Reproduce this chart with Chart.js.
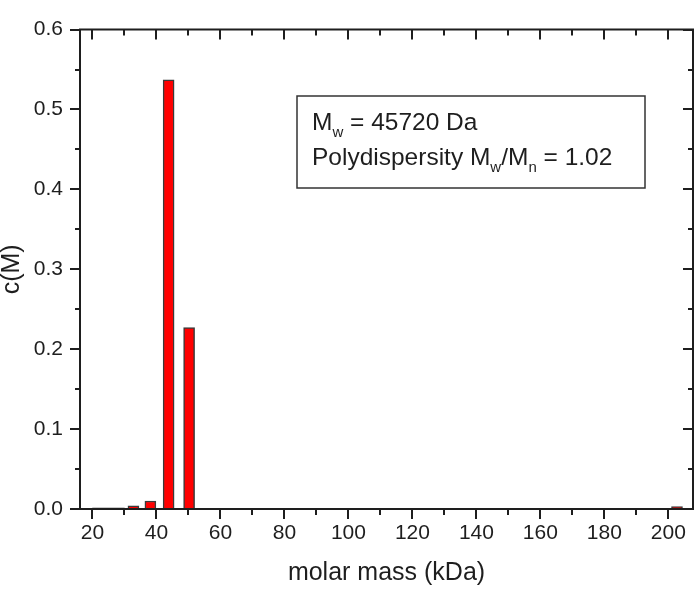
<!DOCTYPE html>
<html><head><meta charset="utf-8">
<script src="https://cdn.jsdelivr.net/npm/chart.js@4"></script>
<style>html,body{margin:0;padding:0;background:#fff}#wrap{width:700px;height:592px}</style>
</head><body><div id="wrap"><canvas id="c" width="700" height="592"></canvas></div>
<script>
// ---- data ----
const wideBarMass = [25];
const wideBarValue = [0.0015];
const masses = [32.8, 38.1, 43.8, 50.2, 202.7];
const values = [0.004, 0.010, 0.537, 0.227, 0.003];
const xTicks = [20, 40, 60, 80, 100, 120, 140, 160, 180, 200];
const xMinorTicks = [30, 50, 70, 90, 110, 130, 150, 170, 190];
const yTicks = [0, 0.1, 0.2, 0.3, 0.4, 0.5, 0.6];
const yTickLabels = ['0.0', '0.1', '0.2', '0.3', '0.4', '0.5', '0.6'];
const yMinorTicks = [0.05, 0.15, 0.25, 0.35, 0.45, 0.55];
const xTitle = 'molar mass (kDa)';
const yTitle = 'c(M)';

const FONT = "'Liberation Sans', Arial, sans-serif";
const INK = '#1e1e1e';

const framePlugin = {
  id: 'frame',
  afterDatasetsDraw(chart) {
    const ctx = chart.ctx, a = chart.chartArea, xs = chart.scales.x, ys = chart.scales.y;
    ctx.save();
    ctx.strokeStyle = INK;
    ctx.lineWidth = 2;
    ctx.lineCap = 'butt';
    ctx.beginPath();
    ctx.rect(a.left, a.top, a.right - a.left, a.bottom - a.top);
    ctx.stroke();
    ctx.beginPath();
    const tick = (vals, len) => {
      vals.forEach(v => {
        const px = Math.round(xs.getPixelForValue(v));
        ctx.moveTo(px, a.bottom); ctx.lineTo(px, a.bottom + len);
        ctx.moveTo(px, a.top); ctx.lineTo(px, a.top + len);
      });
    };
    const ytick = (vals, len) => {
      vals.forEach(v => {
        const py = Math.round(ys.getPixelForValue(v));
        ctx.moveTo(a.left, py); ctx.lineTo(a.left - len, py);
        ctx.moveTo(a.right, py); ctx.lineTo(a.right - len, py);
      });
    };
    tick(xTicks, 10); tick(xMinorTicks, 6);
    ytick(yTicks, 10); ytick(yMinorTicks, 5);
    ctx.stroke();

    // annotation box
    ctx.lineWidth = 1.5;
    ctx.strokeStyle = '#333';
    ctx.strokeRect(297, 96, 348, 92);
    ctx.fillStyle = INK;
    ctx.textBaseline = 'alphabetic';
    const big = '24.5px ' + FONT, small = '15px ' + FONT;
    const draw = (parts, x, y) => {
      parts.forEach(([t, sub]) => {
        ctx.font = sub ? small : big;
        ctx.fillText(t, x, sub ? y + 7 : y);
        x += ctx.measureText(t).width;
      });
    };
    draw([['M', 0], ['w', 1], [' = 45720 Da', 0]], 312, 130);
    draw([['Polydispersity M', 0], ['w', 1], ['/M', 0], ['n', 1], [' = 1.02', 0]], 312, 165);
    ctx.restore();
  }
};

new Chart(document.getElementById('c'), {
  type: 'bar',
  data: {
    datasets: [
      {
        data: wideBarMass.map((m, i) => ({ x: m, y: wideBarValue[i] })),
        backgroundColor: '#ff0000', borderColor: '#2a2a2a', borderWidth: 1.5,
        barThickness: 32, grouped: false, borderSkipped: 'bottom'
      },
      {
        data: masses.map((m, i) => ({ x: m, y: values[i] })),
        backgroundColor: '#ff0000', borderColor: '#3a3a3a', borderWidth: 1.5,
        barThickness: 11, grouped: false, borderSkipped: 'bottom'
      }
    ]
  },
  options: {
    responsive: false,
    animation: false,
    devicePixelRatio: 1,
    layout: { padding: { left: 0, top: 14, right: 7, bottom: 0 } },
    plugins: { legend: { display: false }, tooltip: { enabled: false } },
    scales: {
      x: {
        type: 'linear', min: 16.1, max: 207.7, offset: false,
        grid: { display: false, drawTicks: false }, border: { display: false },
        afterBuildTicks: s => { s.ticks = xTicks.map(v => ({ value: v })); },
        afterFit: s => { s.height = 83; },
        ticks: { color: INK, font: { family: FONT, size: 21 }, padding: 12, maxRotation: 0, autoSkip: false },
        title: { display: true, text: xTitle, color: INK, font: { family: FONT, size: 25 }, padding: { top: 0, bottom: 4 } }
      },
      y: {
        min: 0, max: 0.6,
        grid: { display: false, drawTicks: false }, border: { display: false },
        afterBuildTicks: s => { s.ticks = yTicks.map(v => ({ value: v })); },
        afterFit: s => { s.width = 80; },
        ticks: { color: INK, font: { family: FONT, size: 21 }, padding: 17, autoSkip: false,
          callback: (v, i) => yTickLabels[i] },
        title: { display: true, text: yTitle, color: INK, font: { family: FONT, size: 25, lineHeight: 1 }, padding: { top: 0, bottom: 0 } }
      }
    }
  },
  plugins: [framePlugin]
});
</script></body></html>
